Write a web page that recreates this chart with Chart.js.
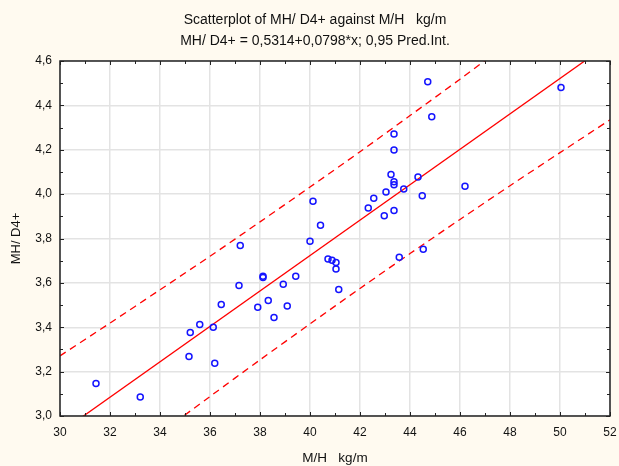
<!DOCTYPE html>
<html>
<head>
<meta charset="utf-8">
<script src="https://cdn.jsdelivr.net/npm/chart.js@4.4.1/dist/chart.umd.min.js"></script>
<style>
  html, body { margin: 0; padding: 0; background: #fffaf0; }
  #wrap { width: 619px; height: 466px; position: relative; }
</style>
</head>
<body>
<div id="wrap"><canvas id="c" width="619" height="466"></canvas></div>
<script>
// ---- data ----
const titleLine1 = "Scatterplot of MH/ D4+ against M/H   kg/m";
const titleLine2 = "MH/ D4+ = 0,5314+0,0798*x; 0,95 Pred.Int.";
const xAxisTitle = "M/H   kg/m";
const yAxisTitle = "MH/ D4+";

const obsX = [31.44, 33.21, 35.16, 35.21, 35.59, 36.13, 36.19, 36.45, 37.16, 37.21,
              37.91, 38.12, 38.12, 38.33, 38.56, 38.93, 39.09, 39.43, 40.00, 40.12,
              40.42, 40.72, 40.88, 41.04, 41.04, 41.15, 42.33, 42.55, 42.97, 43.04,
              43.24, 43.36, 43.36, 43.36, 43.36, 43.36, 43.57, 43.75, 44.32, 44.49,
              44.53, 44.71, 44.87, 46.20, 50.04];
const obsY = [3.146, 3.086, 3.268, 3.376, 3.412, 3.400, 3.238, 3.503, 3.588, 3.769,
              3.490, 3.630, 3.624, 3.521, 3.444, 3.594, 3.496, 3.630, 3.788, 3.968,
              3.860, 3.708, 3.702, 3.692, 3.663, 3.570, 3.938, 3.981, 3.902, 4.010,
              4.089, 4.271, 4.199, 4.056, 4.042, 3.926, 3.715, 4.023, 4.077, 3.993,
              3.751, 4.507, 4.349, 4.035, 4.481];

const fitX = [30, 52];
const fitY = [2.925, 4.681];

const bandX     = [30, 32, 34, 36, 38, 40, 42, 44, 46, 48, 50, 52];
const bandUpper = [3.271, 3.419, 3.569, 3.720, 3.875, 4.032, 4.191, 4.354, 4.518, 4.686, 4.855, 5.027];
const bandLower = [2.579, 2.751, 2.921, 3.088, 3.253, 3.415, 3.575, 3.732, 3.886, 4.038, 4.187, 4.335];

const xMin = 30, xMax = 52, xStep = 2;
const yMin = 3.0, yMax = 4.6, yStep = 0.2;

// ---- build datasets ----
const zip = (xs, ys) => xs.map((x, i) => ({ x: x, y: ys[i] }));
const FONT = "'Liberation Sans', Arial, sans-serif";

const framePlugin = {
  id: 'frame',
  beforeDraw(chart) {
    const { ctx, chartArea: a } = chart;
    ctx.save();
    ctx.fillStyle = '#fffaf0';
    ctx.fillRect(0, 0, chart.width, chart.height);
    ctx.fillStyle = '#ffffff';
    ctx.fillRect(a.left, a.top, a.right - a.left, a.bottom - a.top);
    ctx.restore();
  },
  afterDraw(chart) {
    const { ctx, chartArea: a } = chart;
    const sx = chart.scales.x, sy = chart.scales.y;
    ctx.save();
    // titles
    ctx.fillStyle = '#111';
    ctx.font = '14px ' + FONT;
    ctx.textAlign = 'center';
    ctx.textBaseline = 'middle';
    ctx.fillText(titleLine1, 315, 20);
    ctx.fillText(titleLine2, 315, 41);
    // frame
    ctx.strokeStyle = '#222';
    ctx.lineWidth = 1.5;
    ctx.strokeRect(a.left, a.top, a.right - a.left, a.bottom - a.top);
    // ticks (inward, on all four sides)
    ctx.lineWidth = 1;
    ctx.beginPath();
    for (let v = xMin; v <= xMax + 1e-9; v += 1) {
      const px = Math.round(sx.getPixelForValue(v)) + 0.5;
      const len = (Math.round(v) % 2 === 0) ? 4 : 3;
      ctx.moveTo(px, a.bottom); ctx.lineTo(px, a.bottom - len);
      ctx.moveTo(px, a.top); ctx.lineTo(px, a.top + len);
    }
    for (let i = 0; i <= Math.round((yMax - yMin) / 0.1); i++) {
      const v = yMin + i * 0.1;
      const py = Math.round(sy.getPixelForValue(v)) + 0.5;
      const len = (i % 2 === 0) ? 4 : 3;
      ctx.moveTo(a.left, py); ctx.lineTo(a.left + len, py);
      ctx.moveTo(a.right, py); ctx.lineTo(a.right - len, py);
    }
    ctx.stroke();
    ctx.restore();
  }
};

new Chart(document.getElementById('c'), {
  type: 'scatter',
  data: {
    datasets: [
      {
        label: 'observations',
        data: zip(obsX, obsY),
        showLine: false,
        pointRadius: 3,
        pointHoverRadius: 3,
        pointBorderWidth: 1.5,
        pointBackgroundColor: 'rgba(0,0,0,0)',
        pointBorderColor: '#1414ff',
        order: 0
      },
      {
        label: 'fit',
        data: zip(fitX, fitY),
        showLine: true,
        borderColor: '#ff0000',
        borderWidth: 1.3,
        pointRadius: 0,
        order: 1
      },
      {
        label: 'upper',
        data: zip(bandX, bandUpper),
        showLine: true,
        borderColor: '#ff0000',
        borderWidth: 1.3,
        borderDash: [7, 5],
        tension: 0.3,
        pointRadius: 0,
        order: 2
      },
      {
        label: 'lower',
        data: zip(bandX, bandLower),
        showLine: true,
        borderColor: '#ff0000',
        borderWidth: 1.3,
        borderDash: [7, 5],
        tension: 0.3,
        pointRadius: 0,
        order: 2
      }
    ]
  },
  options: {
    responsive: false,
    animation: false,
    events: [],
    layout: { padding: { top: 61, left: 0, right: 9, bottom: 0 } },
    plugins: {
      legend: { display: false },
      title: { display: false },
      tooltip: { enabled: false }
    },
    scales: {
      x: {
        type: 'linear',
        min: xMin, max: xMax,
        border: { display: false },
        grid: { color: '#e3e3e3', lineWidth: 1.5, drawTicks: false },
        ticks: {
          stepSize: xStep,
          padding: 9,
          color: '#111',
          font: { family: FONT, size: 12 },
          maxRotation: 0,
          callback: v => String(Math.round(v))
        },
        title: {
          display: true,
          text: xAxisTitle,
          color: '#111',
          font: { family: FONT, size: 13.5 },
          padding: { top: 0, bottom: 0 }
        },
        afterFit(s) { s.height = 50; s.paddingLeft = 0; s.paddingRight = 0; }
      },
      y: {
        type: 'linear',
        min: yMin, max: yMax,
        border: { display: false },
        grid: { color: '#e3e3e3', lineWidth: 1.5, drawTicks: false },
        ticks: {
          stepSize: yStep,
          padding: 8,
          color: '#111',
          font: { family: FONT, size: 12 },
          callback: v => (Math.round(v * 10) / 10).toFixed(1).replace('.', ',')
        },
        title: {
          display: true,
          text: yAxisTitle,
          color: '#111',
          font: { family: FONT, size: 13 },
          padding: { top: 9, bottom: 0 }
        },
        afterFit(s) { s.width = 60; s.paddingTop = 0; s.paddingBottom = 0; }
      }
    }
  },
  plugins: [framePlugin]
});
</script>
</body>
</html>
